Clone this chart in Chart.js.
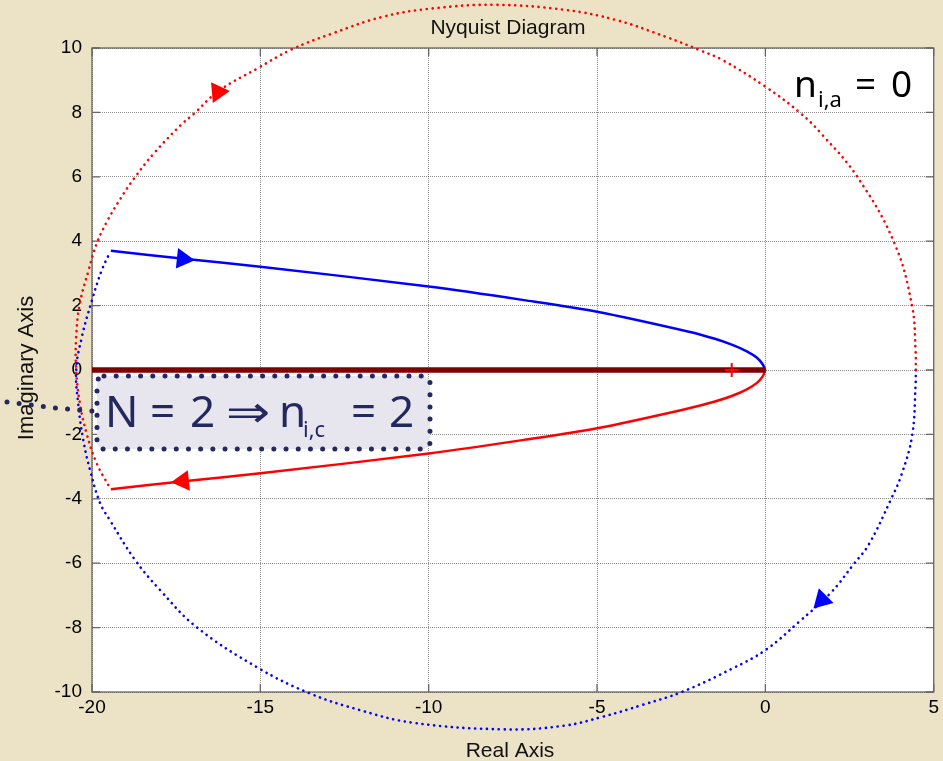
<!DOCTYPE html>
<html>
<head>
<meta charset="utf-8">
<title>Nyquist Diagram</title>
<script src="https://cdn.jsdelivr.net/npm/chart.js@4.4.1/dist/chart.umd.min.js"></script>
<style>
  html, body { margin: 0; padding: 0; background: #ece2c6; }
  canvas { display: block; }
</style>
</head>
<body>
<canvas id="nyquist" width="943" height="761"></canvas>
<script>
// values (real part / imaginary part)
const xTicks = [-20, -15, -10, -5, 0, 5];
const yTicks = [-10, -8, -6, -4, -2, 0, 2, 4, 6, 8, 10];

// solid branches of the Nyquist plot
const curveRe = [-19.44, -17.2, -15, -10, -7.17, -5, -2.27, -1.5, -0.98, -0.55, -0.25, -0.08, 0];
const blueCurveIm = [3.70, 3.45, 3.21, 2.59, 2.17, 1.81, 1.19, 0.97, 0.78, 0.58, 0.38, 0.18, 0];
const redCurveIm = [-3.70, -3.45, -3.21, -2.59, -2.17, -1.81, -1.19, -0.98, -0.80, -0.60, -0.40, -0.20, 0];

// dotted large arcs (contour at infinity)
const redArcRe = [4.47, 4.46, 4.36, 3.84, 2.73, 1.67, 1.05, 0, -1.28, -1.97, -2.96, -4.44, -5.92, -8.0, -9.88,
  -11.36, -12.84, -14.08, -15.08, -16.26, -16.96, -17.36, -18.16, -18.75, -19.15, -19.56, -19.86, -20.1,
  -20.36, -20.47, -20.47, -20.36, -20.16, -19.86, -19.49];
const redArcIm = [0, 0.62, 1.97, 3.92, 6.0, 7.33, 7.97, 8.8, 9.63, 9.94, 10.35, 10.87, 11.18, 11.34, 11.23,
  10.97, 10.46, 9.95, 9.37, 8.65, 7.97, 7.61, 6.73, 5.95, 5.33, 4.6, 3.93, 3.1,
  2.07, 1.03, 0, -1.03, -1.97, -2.9, -3.62];
const blueArcRe = [4.47, 4.46, 4.36, 4.04, 3.72, 3.07, 2.63, 1.94, 1.0, 0, -0.98, -2.46, -3.65, -4.84, -6.0,
  -7.76, -10.5, -12.05, -13.54, -15.05, -16.9, -17.98, -18.72, -19.47, -19.76, -20.06, -20.26, -20.4,
  -20.47, -20.3, -20.0, -19.71, -19.46];
const blueArcIm = [0, -0.49, -2.03, -3.26, -4.04, -5.42, -6.02, -6.92, -7.82, -8.7, -9.27, -9.99, -10.4, -10.77, -11.05,
  -11.16, -10.95, -10.56, -10.04, -9.26, -7.98, -6.83, -5.9, -4.66, -4.13, -3.1, -2.17, -1.14,
  0, 1.03, 2.17, 3.1, 3.67];

// real-axis segment, critical point and direction arrows
const segmentRe = [-20, 0];
const segmentIm = [0, 0];
const criticalRe = [-1];
const criticalIm = [0];
const arrowRe = [-16.26, -17.3, -17.3, 1.68];
const arrowIm = [8.63, 3.45, -3.45, -7.14];

const pts = (xs, ys) => xs.map((x, i) => ({ x: x, y: ys[i] }));

const BEIGE = '#ece2c6';
const NAVY = '#23285f';
const SANS = '"Liberation Sans", Arial, sans-serif';
const TXT = '"Noto Sans", "DejaVu Sans", sans-serif';

function put(ctx, s, x, y, size, color) {
  ctx.font = size + 'px ' + TXT;
  ctx.fillStyle = color;
  ctx.fillText(s, x, y);
}

const decor = {
  id: 'decor',
  beforeDraw(chart) {
    const { ctx, chartArea: a } = chart;
    ctx.save();
    ctx.fillStyle = BEIGE;
    ctx.fillRect(0, 0, chart.width, chart.height);
    ctx.fillStyle = '#ffffff';
    ctx.fillRect(a.left, a.top, a.right - a.left, a.bottom - a.top);
    ctx.restore();
  },
  beforeDatasetsDraw(chart) {
    const { ctx, chartArea: a, scales } = chart;
    ctx.save();
    ctx.strokeStyle = '#666';
    ctx.lineWidth = 1.3;
    ctx.strokeRect(a.left, a.top, a.right - a.left, a.bottom - a.top);
    // small inward tick marks
    ctx.beginPath();
    xTicks.forEach(v => {
      const px = scales.x.getPixelForValue(v);
      ctx.moveTo(px, a.bottom); ctx.lineTo(px, a.bottom - 8);
      ctx.moveTo(px, a.top); ctx.lineTo(px, a.top + 8);
    });
    yTicks.forEach(v => {
      const py = scales.y.getPixelForValue(v);
      ctx.moveTo(a.left, py); ctx.lineTo(a.left + 8, py);
      ctx.moveTo(a.right, py); ctx.lineTo(a.right - 8, py);
    });
    ctx.stroke();
    ctx.restore();
  },
  afterDraw(chart) {
    const { ctx } = chart;
    ctx.save();
    // titles
    ctx.fillStyle = '#111';
    ctx.font = '21px ' + SANS;
    ctx.textAlign = 'center';
    ctx.fillText('Nyquist Diagram', 508, 34);
    ctx.fillText('Real Axis', 510, 757);
    ctx.save();
    ctx.translate(33, 368);
    ctx.rotate(-Math.PI / 2);
    ctx.font = '22px ' + SANS;
    ctx.fillText('Imaginary Axis', 0, 0);
    ctx.restore();
    ctx.textAlign = 'left';

    // n_{i,a} = 0
    put(ctx, 'n', 794, 97, 37, '#000');
    put(ctx, 'i,a', 818, 107, 22, '#000');
    put(ctx, '=', 855, 97, 37, '#000');
    put(ctx, '0', 891, 97, 37, '#000');

    // annotation box
    ctx.beginPath();
    ctx.roundRect(97, 376, 333, 73, 7);
    ctx.fillStyle = '#e7e6ee';
    ctx.fill();
    ctx.strokeStyle = NAVY;
    ctx.lineWidth = 5;
    ctx.lineCap = 'round';
    ctx.setLineDash([0, 12.2]);
    ctx.stroke();
    // leader dots
    ctx.beginPath();
    ctx.moveTo(7, 402);
    ctx.lineTo(55, 408);
    ctx.lineTo(92, 411);
    ctx.stroke();
    ctx.setLineDash([]);

    put(ctx, 'N', 105, 427, 44, NAVY);
    put(ctx, '=', 150, 427, 44, NAVY);
    put(ctx, '2', 190, 427, 44, NAVY);
    ctx.save();
    ctx.translate(226, 427);
    ctx.scale(1.2, 1);
    put(ctx, '\u21D2', 0, 0, 44, NAVY);
    ctx.restore();
    put(ctx, 'n', 279, 427, 44, NAVY);
    put(ctx, 'i,c', 303, 437, 22, NAVY);
    put(ctx, '=', 351, 427, 44, NAVY);
    put(ctx, '2', 389, 427, 44, NAVY);
    ctx.restore();
  }
};

const dotted = { borderDash: [0.1, 5.8], borderCapStyle: 'round', borderWidth: 2.6 };

new Chart(document.getElementById('nyquist'), {
  type: 'scatter',
  data: {
    datasets: [
      {
        data: pts(arrowRe, arrowIm),
        pointStyle: 'triangle',
        pointRadius: 12,
        pointRotation: [205, 96, 264, 225],
        pointBackgroundColor: ['#ff0000', '#0000ff', '#ff0000', '#0000ff'],
        pointBorderWidth: 0,
        clip: false
      },
      {
        data: pts(criticalRe, criticalIm),
        pointStyle: 'cross',
        pointRadius: 7,
        pointBorderColor: '#ff0000',
        pointBorderWidth: 2
      },
      {
        data: pts(segmentRe, segmentIm),
        showLine: true,
        borderColor: '#800000',
        borderWidth: 5.5,
        pointRadius: 0
      },
      {
        data: pts(curveRe, blueCurveIm),
        showLine: true,
        borderColor: '#0000ff',
        borderWidth: 2.5,
        tension: 0.3,
        pointRadius: 0,
        clip: false
      },
      {
        data: pts(curveRe, redCurveIm),
        showLine: true,
        borderColor: '#ff0000',
        borderWidth: 2.5,
        tension: 0.3,
        pointRadius: 0,
        clip: false
      },
      Object.assign({
        data: pts(redArcRe, redArcIm),
        showLine: true,
        borderColor: '#ff0000',
        tension: 0.4,
        pointRadius: 0,
        clip: false
      }, dotted),
      Object.assign({
        data: pts(blueArcRe, blueArcIm),
        showLine: true,
        borderColor: '#0000ff',
        tension: 0.4,
        pointRadius: 0,
        clip: false
      }, dotted)
    ]
  },
  options: {
    responsive: false,
    devicePixelRatio: 1,
    animation: false,
    events: [],
    layout: { autoPadding: false, padding: { top: 48, right: 8, left: 0, bottom: 0 } },
    plugins: { legend: { display: false }, tooltip: { enabled: false }, title: { display: false } },
    scales: {
      x: {
        type: 'linear', min: -20, max: 5,
        afterBuildTicks: s => { s.ticks = xTicks.map(v => ({ value: v })); },
        afterFit: s => { s.height = 69; },
        grid: { color: 'rgba(0,0,0,0.45)', lineWidth: 1, drawTicks: false },
        border: { display: false, dash: [1, 1] },
        ticks: { padding: 4, color: '#000', font: { family: SANS, size: 19 } }
      },
      y: {
        type: 'linear', min: -10, max: 10,
        afterBuildTicks: s => { s.ticks = yTicks.map(v => ({ value: v })); },
        afterFit: s => { s.width = 92; },
        grid: { color: 'rgba(0,0,0,0.45)', lineWidth: 1, drawTicks: false },
        border: { display: false, dash: [1, 1] },
        ticks: { padding: 10, color: '#000', font: { family: SANS, size: 19 } }
      }
    }
  },
  plugins: [decor]
});
</script>
</body>
</html>
